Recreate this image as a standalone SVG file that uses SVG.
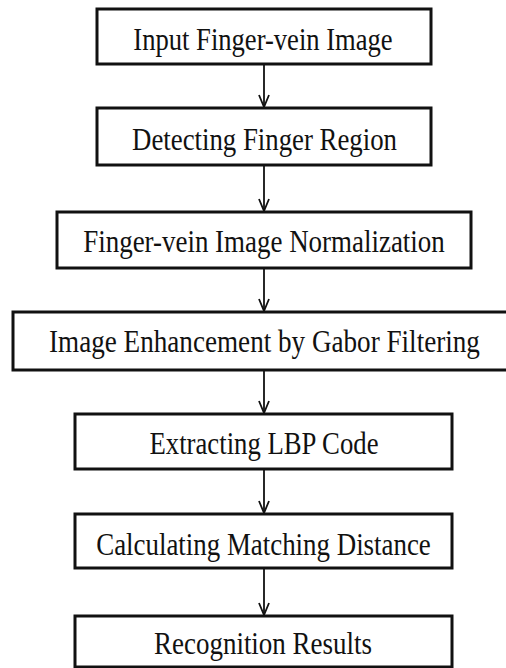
<svg xmlns="http://www.w3.org/2000/svg" width="506" height="668" viewBox="0 0 506 668">
<style>
.box{fill:#fff;stroke:#111;stroke-width:3}
.lbl{font-family:"Liberation Serif","Times New Roman",serif;font-size:32px;fill:#111;text-anchor:middle}
.conn{stroke:#111;stroke-width:1.8;fill:none}
</style>
<defs>
<marker id="arr" markerWidth="14" markerHeight="12" refX="13" refY="6" orient="auto" markerUnits="userSpaceOnUse" viewBox="0 0 14 12">
<path d="M1,1 L13,6 L1,11" fill="none" stroke="#111" stroke-width="1.8"/>
</marker>
</defs>
<rect width="506" height="668" fill="#fff"/>
<g id="connectors">
<line class="conn" x1="264" y1="64" x2="264" y2="107" marker-end="url(#arr)"/>
<line class="conn" x1="264" y1="165" x2="264" y2="211" marker-end="url(#arr)"/>
<line class="conn" x1="264" y1="268" x2="264" y2="311" marker-end="url(#arr)"/>
<line class="conn" x1="264" y1="370" x2="264" y2="413" marker-end="url(#arr)"/>
<line class="conn" x1="264" y1="469" x2="264" y2="513" marker-end="url(#arr)"/>
<line class="conn" x1="264" y1="568" x2="264" y2="615" marker-end="url(#arr)"/>
</g>
<g id="n1"><rect class="box" x="97" y="9" width="334" height="55"/><text class="lbl" transform="translate(263,50) scale(0.831,1)">Input Finger-vein Image</text></g>
<g id="n2"><rect class="box" x="97" y="108" width="334" height="57"/><text class="lbl" transform="translate(264.5,150) scale(0.8375,1)">Detecting Finger Region</text></g>
<g id="n3"><rect class="box" x="57" y="212" width="414" height="56"/><text class="lbl" transform="translate(264,252) scale(0.842,1)">Finger-vein Image Normalization</text></g>
<g id="n4"><rect class="box" x="13" y="312" width="502" height="58"/><text class="lbl" transform="translate(264.5,352) scale(0.848,1)">Image Enhancement by Gabor Filtering</text></g>
<g id="n5"><rect class="box" x="75" y="414" width="377" height="55"/><text class="lbl" transform="translate(264,454) scale(0.835,1)">Extracting LBP Code</text></g>
<g id="n6"><rect class="box" x="75" y="514" width="377" height="54"/><text class="lbl" transform="translate(263.5,555) scale(0.841,1)">Calculating Matching Distance</text></g>
<g id="n7"><rect class="box" x="75" y="616" width="377" height="51"/><text class="lbl" transform="translate(263,654) scale(0.843,1)">Recognition Results</text></g>
</svg>
